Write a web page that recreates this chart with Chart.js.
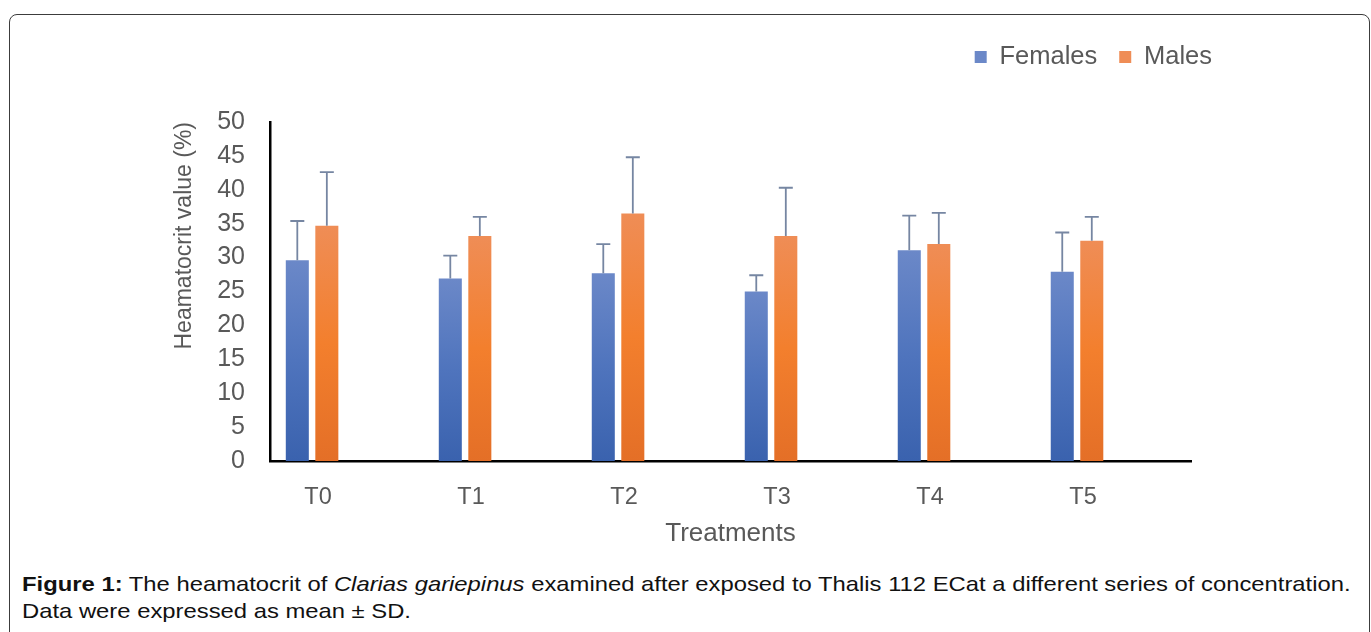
<!DOCTYPE html>
<html>
<head>
    <title>Heamatocrit of Clarias gariepinus</title>
    <script src="https://cdn.jsdelivr.net/npm/chart.js"></script>
    <style>
        body {
            margin: 0;
            width: 1371px;
            height: 632px;
            overflow: hidden;
            background: #fff;
            position: relative;
            font-family: "Liberation Sans", Arial, sans-serif;
        }
        .frame {
            position: absolute;
            left: 9px;
            top: 14px;
            width: 1359px;
            height: 700px;
            border: 1.5px solid #3c3c3c;
            border-radius: 8px;
        }
        #wrap {
            position: absolute;
            left: 0;
            top: 0;
            width: 1371px;
            height: 560px;
        }
        /* the figure in the source is stretched sideways a little */
        .caption {
            position: absolute;
            left: 22px;
            top: 570px;
            font-size: 21px;
            line-height: 27px;
            color: #111;
            white-space: nowrap;
            transform: scaleX(1.134);
            transform-origin: left top;
        }
    </style>
</head>
<body>
    <div class="frame"></div>
    <div id="wrap"><canvas id="chart"></canvas></div>
    <div class="caption"><b>Figure 1:</b> The heamatocrit of <i>Clarias gariepinus</i> examined after exposed to Thalis 112 ECat a different series of concentration.<br>Data were expressed as mean ± SD.</div>

    <script>
        // values (mean and +SD)
        const categories = ['T0', 'T1', 'T2', 'T3', 'T4', 'T5'];
        const femaleMean = [29.6, 26.9, 27.7, 25.0, 31.1, 27.9];
        const femaleSD = [5.8, 3.4, 4.3, 2.4, 5.1, 5.8];
        const maleMean = [34.7, 33.2, 36.5, 33.2, 32.0, 32.5];
        const maleSD = [7.9, 2.8, 8.3, 7.1, 4.6, 3.5];
        const yMin = 0, yMax = 50, yStep = 5;

        const gray = '#595959';
        const font = '"Liberation Sans", Arial, sans-serif';

        // excel-style vertical gradient, lighter at the top of each bar
        function barGradient(stops, flat) {
            return c => {
                if (c.type !== 'data' || !c.parsed || !c.chart.chartArea) return flat;
                const y = c.chart.scales.y;
                const g = c.chart.ctx.createLinearGradient(0, y.getPixelForValue(c.parsed.y), 0, y.getPixelForValue(0));
                stops.forEach((col, i) => g.addColorStop(i / (stops.length - 1), col));
                return g;
            };
        }

        const errors = [femaleSD, maleSD];
        const errorBars = {
            id: 'errorBars',
            afterDatasetsDraw(chart) {
                const { ctx, scales: { y } } = chart;
                ctx.save();
                ctx.strokeStyle = '#7686a2';
                ctx.lineWidth = 1.8;
                chart.data.datasets.forEach((ds, di) => {
                    chart.getDatasetMeta(di).data.forEach((bar, i) => {
                        const top = y.getPixelForValue(ds.data[i].y + errors[di][i]);
                        ctx.beginPath();
                        ctx.moveTo(bar.x, bar.y);
                        ctx.lineTo(bar.x, top);
                        ctx.moveTo(bar.x - 7, top);
                        ctx.lineTo(bar.x + 7, top);
                        ctx.stroke();
                    });
                });
                ctx.restore();
            }
        };

        // legend sits top right, above the plot, with room below it
        const legendPlace = {
            id: 'legendPlace',
            beforeInit(chart) {
                const lg = chart.legend;
                const fit = lg.fit;
                lg.fit = function () { fit.call(this); this.height = 122; };
            },
            afterLayout(chart) {
                const lg = chart.legend;
                const pad = lg.options.labels.padding;
                const fs = lg.options.labels.font.size;
                const w = lg.right - lg.left, h = lg.bottom - lg.top;
                lg.top = 57 - pad - fs / 2;
                lg.bottom = lg.top + h;
                lg.right = 1212 + pad;
                lg.left = lg.right - w;
            }
        };

        const points = arr => arr.map((v, i) => ({ x: i, y: v }));

        new Chart(document.getElementById('chart'), {
            type: 'bar',
            data: {
                datasets: [
                    {
                        label: 'Females',
                        data: points(femaleMean),
                        backgroundColor: barGradient(['#6b88c8', '#4f74bd', '#3a62ae'], '#4472c4'),
                        categoryPercentage: 0.386,
                        barPercentage: 0.78
                    },
                    {
                        label: 'Males',
                        data: points(maleMean),
                        backgroundColor: barGradient(['#ef8d56', '#f37f2d', '#e46f27'], '#ed7d31'),
                        categoryPercentage: 0.386,
                        barPercentage: 0.78
                    }
                ]
            },
            options: {
                responsive: true,
                maintainAspectRatio: false,
                animation: false,
                layout: { padding: { left: 150, right: 180, top: 0, bottom: 0 } },
                plugins: {
                    tooltip: { enabled: false },
                    legend: {
                        position: 'top',
                        align: 'end',
                        labels: {
                            boxWidth: 12,
                            boxHeight: 12,
                            padding: 22,
                            color: gray,
                            font: { family: font, size: 25.5 }
                        }
                    }
                },
                scales: {
                    x: {
                        type: 'linear',
                        offset: false,
                        min: -0.275,
                        max: 5.745,
                        afterBuildTicks: s => { s.ticks = categories.map((_, i) => ({ value: i })); },
                        afterFit: s => { s.height = 99; },
                        grid: { display: false, drawTicks: false },
                        border: { color: '#000', width: 2.5 },
                        ticks: {
                            autoSkip: false,
                            padding: 22,
                            labelOffset: 6,
                            color: gray,
                            font: { family: font, size: 23.5 },
                            callback: v => categories[v]
                        },
                        title: {
                            display: true,
                            text: 'Treatments',
                            color: gray,
                            font: { family: font, size: 26 },
                            padding: { top: 0, bottom: 11 }
                        }
                    },
                    y: {
                        min: yMin,
                        max: yMax,
                        afterFit: s => { s.width = 120; },
                        grid: { display: false, drawTicks: false },
                        border: { color: '#000', width: 2.5 },
                        ticks: {
                            stepSize: yStep,
                            padding: 25,
                            color: gray,
                            font: { family: font, size: 25 }
                        },
                        title: {
                            display: true,
                            text: 'Heamatocrit value (%)',
                            align: 'end',
                            color: gray,
                            font: { family: font, size: 23 },
                            padding: { top: 21, bottom: 0 }
                        }
                    }
                }
            },
            plugins: [errorBars, legendPlace]
        });
    </script>
</body>
</html>
